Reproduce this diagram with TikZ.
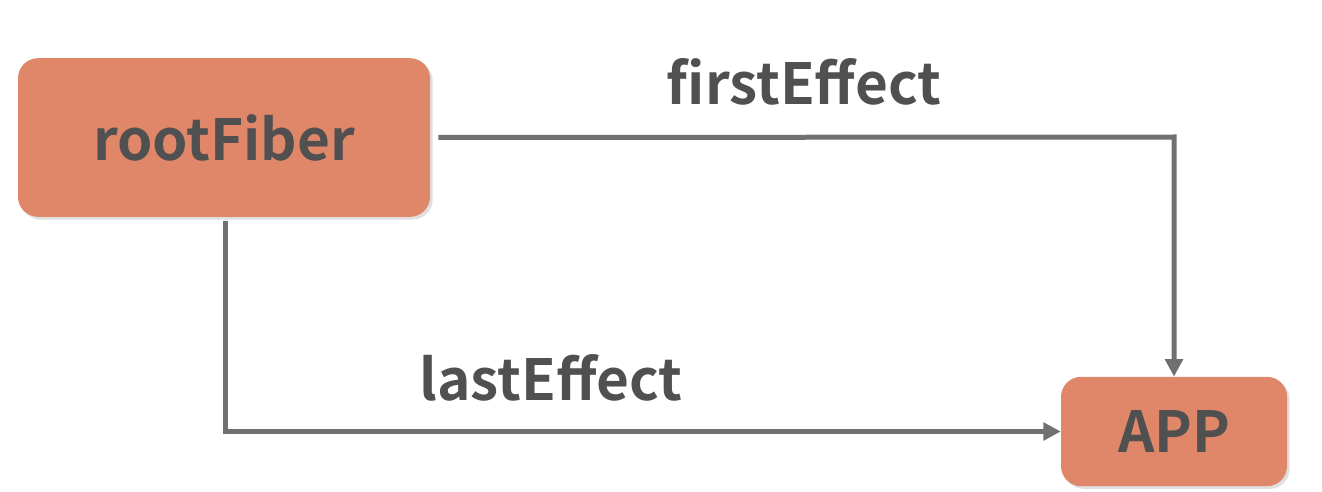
\documentclass[tikz,border=0pt]{standalone}
\usepackage{fontspec}
\setmainfont{Noto Sans CJK SC}[BoldFont={Noto Sans CJK SC Bold}]
\usetikzlibrary{arrows.meta,shadows}
\definecolor{boxfill}{HTML}{E0876A}
\definecolor{txt}{HTML}{505050}
\definecolor{lin}{HTML}{707070}
\tikzset{
  box/.style={fill=boxfill, rounded corners=15pt, inner sep=0pt,
    drop shadow={opacity=0.25, shadow xshift=2pt, shadow yshift=-2pt},
    text=txt, font=\fontsize{42.5}{48}\selectfont\bfseries},
  conn/.style={draw=lin, line width=3.75pt, -{Triangle[length=13pt,width=13pt]}},
  lbl/.style={text=txt, font=\fontsize{42.5}{48}\selectfont\bfseries, inner sep=0pt}
}
\begin{document}
\begin{tikzpicture}[x=0.75pt,y=-0.75pt]
\useasboundingbox (0,0) rectangle (1322,492);
\node[box, minimum width=309pt, minimum height=119pt] (root) at (224,137.5) {rootFiber};
\node[box, minimum width=169.5pt, minimum height=82pt] (app) at (1174,431.5) {APP};
\coordinate (c1) at (1174,137);
\coordinate (c2) at (225,432);
\draw[conn] ([xshift=6pt]root.east) -- (c1) -- (app.north);
\draw[conn] ([xshift=0.75pt]root.south) ++(0,-3pt) |- (app.west);
\node[lbl] (first) at (804,82) {firstEffect};
\node[lbl] (last) at (551,378) {lastEffect};
\end{tikzpicture}
\end{document}
